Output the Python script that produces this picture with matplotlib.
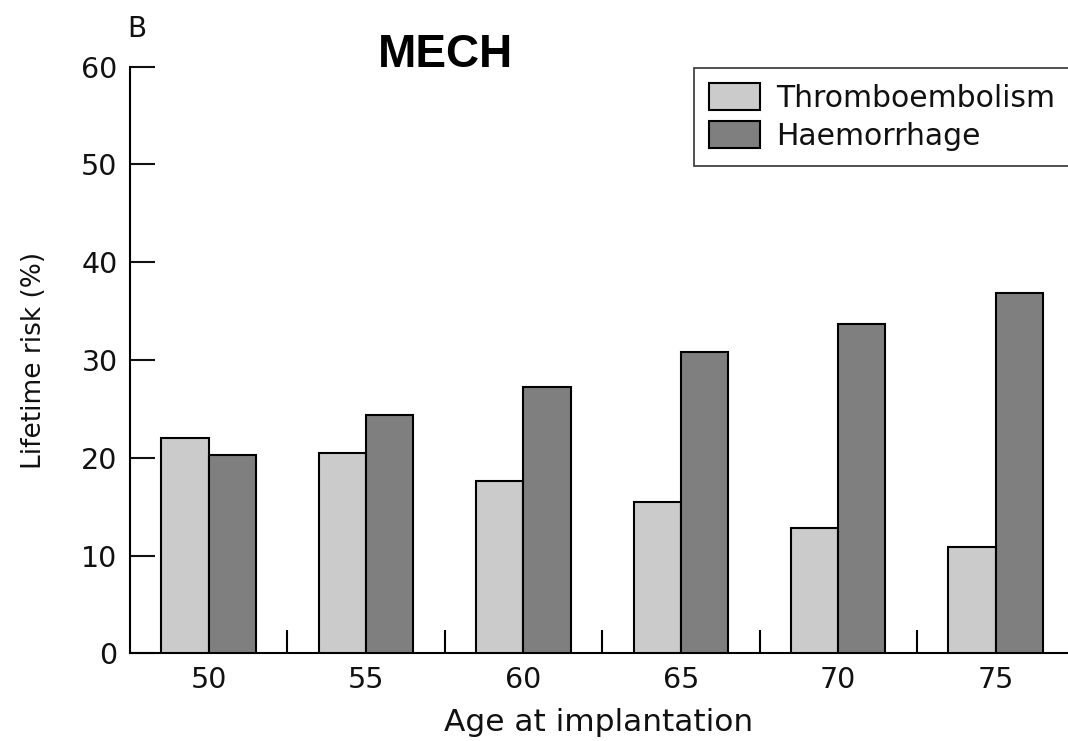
import matplotlib
matplotlib.use("Agg")
import matplotlib.pyplot as plt
import numpy as np

# Lifetime risk after mechanical valve implantation, by age
ages = ["50", "55", "60", "65", "70", "75"]
thromboembolism = [22.0, 20.5, 17.6, 15.5, 12.8, 10.9]
haemorrhage = [20.3, 24.4, 27.2, 30.8, 33.7, 36.9]
series_labels = ["Thromboembolism", "Haemorrhage"]
y_ticks = [0, 10, 20, 30, 40, 50, 60]

plt.rcParams["font.family"] = ["DejaVu Sans"]

W, H = 1068, 741
fig = plt.figure(figsize=(W / 100, H / 100), dpi=100)
ax = fig.add_axes([130 / W, 1 - 653.3 / H, (W - 130) / W, (653.3 - 66.7) / H])

x = np.arange(len(ages))
bw = 0.3
ax.bar(x - bw / 2, thromboembolism, bw, color="#cbcbcb", edgecolor="black",
       linewidth=1.5, label=series_labels[0], zorder=3)
ax.bar(x + bw / 2, haemorrhage, bw, color="#7f7f7f", edgecolor="black",
       linewidth=1.5, label=series_labels[1], zorder=3)

ax.set_xlim(-0.5, 5.46)
ax.set_ylim(0, 60)
ax.set_yticks(y_ticks)
ax.set_xticks(x)
ax.set_xticklabels(ages)
ax.set_xticks(x[:-1] + 0.5, minor=True)

for s in ["top", "right"]:
    ax.spines[s].set_visible(False)
for s in ["left", "bottom"]:
    ax.spines[s].set_linewidth(1.5)

ax.tick_params(axis="y", direction="in", length=18, width=1.5, pad=9,
               labelsize=20.5, colors="#111111")
ax.tick_params(axis="x", which="major", length=0, pad=9, labelsize=20.5,
               colors="#111111")
ax.tick_params(axis="x", which="minor", direction="in", length=16.5, width=1.5)

ax.set_xlabel("Age at implantation", fontsize=22.5, color="#111111")
ax.xaxis.set_label_coords(0.5, -(708 - 653.3) / (653.3 - 66.7))
ax.set_ylabel("Lifetime risk (%)", fontsize=19, color="#111111")
ax.yaxis.set_label_coords((47 - 130) / (W - 130), 0.5)

leg = fig.legend(loc="upper left", bbox_to_anchor=(694 / W, 1 - 68 / H),
                 fontsize=21.5, frameon=True, fancybox=False, edgecolor="black",
                 handlelength=1.7, handleheight=1.0, handletextpad=0.55,
                 labelspacing=0.3, borderpad=0.5, borderaxespad=0)
leg.get_frame().set_linewidth(1.2)
for t in leg.get_texts():
    t.set_color("#111111")

fig.text(445 / W, 1 - 67 / H, "MECH", fontsize=33, fontweight="bold",
         family="Liberation Sans", ha="center", va="baseline")
fig.text(137 / W, 1 - 37 / H, "B", fontsize=20, ha="center", va="baseline",
         color="#111111")

fig.savefig("out.png", dpi=100)
